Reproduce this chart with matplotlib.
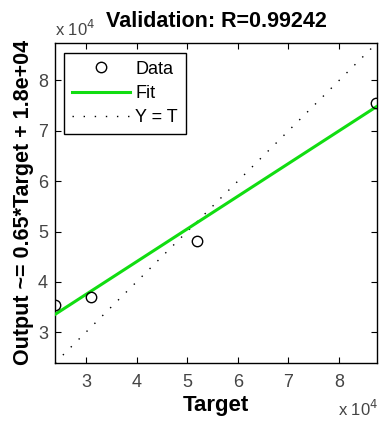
import matplotlib
matplotlib.use("Agg")
import matplotlib.pyplot as plt
from matplotlib.ticker import FuncFormatter, MultipleLocator
import numpy as np

plt.rcParams['font.family'] = ['Liberation Sans', 'DejaVu Sans']

targets = [23900, 31000, 51900, 87300]
outputs = [35400, 36900, 48100, 75600]
fit_slope = 0.65
fit_intercept = 18000
title = "Validation: R=0.99242"
lims = [23900, 87500]

fig = plt.figure(figsize=(3.82, 4.23), dpi=100)
ax = fig.add_axes([0.144, 0.142, 0.843, 0.757])

xx = np.array(lims)
ax.plot(targets, outputs, 'o', mfc='none', mec='black', ms=7.5, mew=1.0, label='Data', zorder=4)
ax.plot(xx, fit_slope * xx + fit_intercept, '-', color='#11dd11', lw=2.2, label='Fit', zorder=3)
ax.plot(xx, xx, linestyle=(0, (1, 7)), color='black', lw=1, label='Y = T', zorder=2)

ax.set_xlim(lims)
ax.set_ylim(lims)
fmt = FuncFormatter(lambda v, p: f"{v/1e4:g}")
ax.xaxis.set_major_locator(MultipleLocator(10000))
ax.yaxis.set_major_locator(MultipleLocator(10000))
ax.xaxis.set_major_formatter(fmt)
ax.yaxis.set_major_formatter(fmt)
ax.tick_params(direction='in', top=True, right=True, labelsize=13, labelcolor='#444444', length=4, pad=5)
ax.tick_params(axis='x', pad=8)
for s in ax.spines.values():
    s.set_linewidth(1.0)

ax.set_xlabel('Target', fontsize=16, fontweight='bold', labelpad=3)
ax.set_ylabel('Output ~= 0.65*Target + 1.8e+04', fontsize=15.5, fontweight='bold', labelpad=3)
ax.set_title(title, fontsize=15.5, fontweight='bold', pad=11)

fig.text(55/382, 1 - 29/423, r'x 10$^4$', fontsize=12, color='#444444', ha='left', va='center')
fig.text(378/382, 1 - 409/423, r'x 10$^4$', fontsize=12, color='#444444', ha='right', va='center')

leg = ax.legend(loc='upper left', bbox_to_anchor=(0.028, 0.969), fancybox=False, edgecolor='black',
                fontsize=13, handlelength=3.2, handletextpad=0.3, borderpad=0.45, labelspacing=0.4,
                framealpha=1, borderaxespad=0)
leg.get_frame().set_linewidth(1.0)

fig.savefig('out.png', dpi=100)
